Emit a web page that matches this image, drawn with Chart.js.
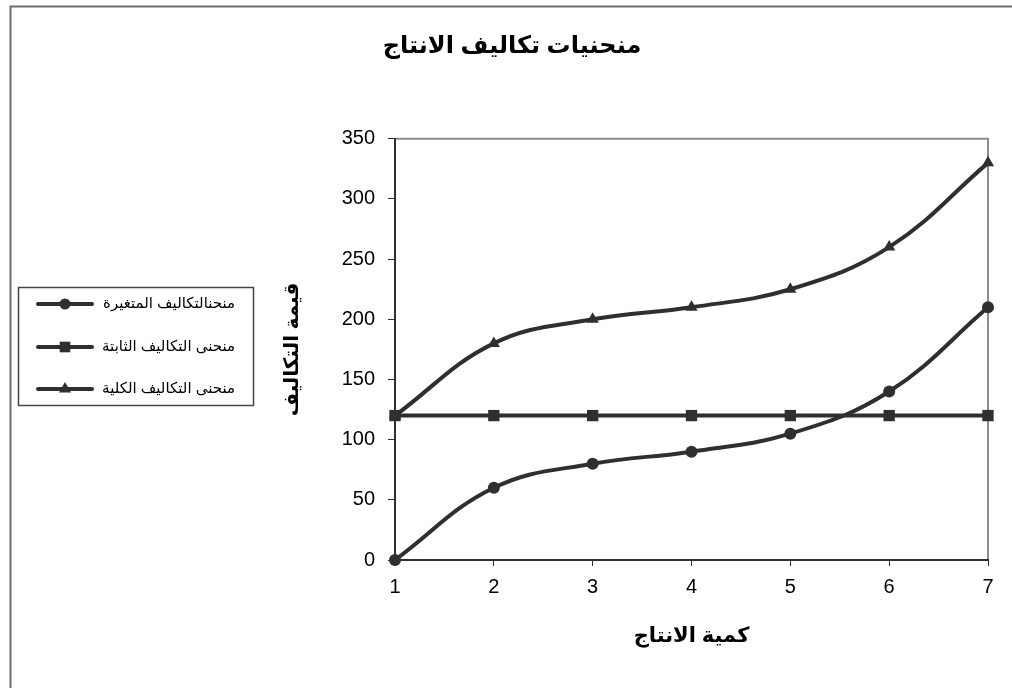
<!DOCTYPE html>
<html lang="ar">
<head>
<meta charset="utf-8">
<title>منحنيات تكاليف الانتاج</title>
<script src="https://cdn.jsdelivr.net/npm/chart.js@4/dist/chart.umd.min.js"></script>
<style>
    html, body { margin: 0; padding: 0; background: #fff; }
    #wrap { width: 1012px; height: 688px; position: relative; }
</style>
</head>
<body>
<div id="wrap"><canvas id="costChart" width="1012" height="688"></canvas></div>
<script>
// quantities and cost values
const quantities = ['1', '2', '3', '4', '5', '6', '7'];
const variableCost = [0, 60, 80, 90, 105, 140, 210];
const fixedCost = [120, 120, 120, 120, 120, 120, 120];
const totalCost = [120, 180, 200, 210, 225, 260, 330];
const yTicks = [0, 50, 100, 150, 200, 250, 300, 350];

const seriesNames = ['منحنالتكاليف المتغيرة', 'منحنى التكاليف الثابتة', 'منحنى التكاليف الكلية'];

const FONT = '"Liberation Sans", Arial, "DejaVu Sans", sans-serif';
const INK = '#2f2f2f';

function makeSeries(label, data, marker, radius) {
    return {
        label: label,
        data: data,
        borderColor: INK,
        backgroundColor: INK,
        borderWidth: 4,
        pointStyle: marker,
        pointRadius: radius,
        pointBorderWidth: 0,
        pointBackgroundColor: INK,
        tension: 0.4,
        clip: false
    };
}

// outer frame, plot border and the boxed legend on the left
const framePlugin = {
    id: 'frame',
    beforeDraw(chart) {
        const ctx = chart.ctx;
        ctx.save();
        ctx.fillStyle = '#fff';
        ctx.fillRect(0, 0, chart.width, chart.height);
        ctx.strokeStyle = '#6e6e6e';
        ctx.lineWidth = 2;
        ctx.beginPath();
        ctx.moveTo(10.5, chart.height);
        ctx.lineTo(10.5, 6.5);
        ctx.lineTo(chart.width, 6.5);
        ctx.stroke();

        const a = chart.chartArea;
        ctx.strokeStyle = '#8c8c8c';
        ctx.lineWidth = 2;
        ctx.beginPath();
        ctx.moveTo(a.left, a.top);
        ctx.lineTo(a.right, a.top);
        ctx.lineTo(a.right, a.bottom);
        ctx.stroke();
        ctx.restore();
    },
    afterDraw(chart) {
        const ctx = chart.ctx;
        ctx.save();
        ctx.strokeStyle = '#444';
        ctx.lineWidth = 1.5;
        ctx.strokeRect(18.5, 287.5, 235, 118);

        const rowsY = [304, 347, 389];
        const legendRadius = [5.5, 7.5, 7];
        chart.data.datasets.forEach((ds, i) => {
            const y = rowsY[i];
            ctx.strokeStyle = ds.borderColor;
            ctx.lineWidth = 4;
            ctx.lineCap = 'round';
            ctx.beginPath();
            ctx.moveTo(38, y);
            ctx.lineTo(92, y);
            ctx.stroke();
            ctx.fillStyle = ds.pointBackgroundColor;
            Chart.helpers.drawPoint(ctx, {
                pointStyle: ds.pointStyle,
                radius: legendRadius[i],
                borderWidth: 0
            }, 65, y);
            ctx.fillStyle = '#000';
            ctx.font = '15px ' + FONT;
            ctx.textAlign = 'right';
            ctx.textBaseline = 'middle';
            ctx.direction = 'rtl';
            ctx.fillText(ds.label, 235, y);
        });
        ctx.restore();
    }
};

new Chart(document.getElementById('costChart'), {
    type: 'line',
    data: {
        labels: quantities,
        datasets: [
            makeSeries(seriesNames[0], variableCost, 'circle', 6),
            makeSeries(seriesNames[1], fixedCost, 'rect', 8),
            makeSeries(seriesNames[2], totalCost, 'triangle', 7)
        ]
    },
    plugins: [framePlugin],
    options: {
        responsive: false,
        animation: false,
        devicePixelRatio: 1,
        layout: { padding: { left: 12, right: 0, top: 0, bottom: 0 } },
        plugins: {
            legend: { display: false },
            tooltip: { enabled: false },
            title: {
                display: true,
                text: 'منحنيات تكاليف الانتاج',
                color: '#000',
                font: { family: FONT, size: 24, weight: 'bold' },
                padding: { top: 32, bottom: 78 }
            }
        },
        scales: {
            x: {
                offset: false,
                afterFit(scale) {
                    scale.height = 688 - 560;
                },
                grid: {
                    display: true,
                    drawOnChartArea: false,
                    drawTicks: true,
                    tickLength: 6,
                    color: INK,
                    lineWidth: 1
                },
                border: { display: true, color: INK, width: 2 },
                ticks: {
                    color: '#000',
                    font: { family: FONT, size: 20 },
                    padding: 9,
                    maxRotation: 0
                },
                title: {
                    display: true,
                    text: 'كمية الانتاج',
                    color: '#000',
                    font: { family: FONT, size: 21, weight: 'bold' },
                    padding: { top: 0, bottom: 39 }
                }
            },
            y: {
                min: 0,
                max: 350,
                afterBuildTicks(scale) {
                    scale.ticks = yTicks.map(v => ({ value: v }));
                },
                afterFit(scale) {
                    scale.width = 395 - 12;
                },
                grid: {
                    display: true,
                    drawOnChartArea: false,
                    drawTicks: true,
                    tickLength: 7,
                    color: INK,
                    lineWidth: 1
                },
                border: { display: true, color: INK, width: 2 },
                ticks: {
                    color: '#000',
                    font: { family: FONT, size: 20 },
                    padding: 13
                },
                title: {
                    display: true,
                    text: 'قيمة التكاليف',
                    color: '#000',
                    font: { family: FONT, size: 20, weight: 'bold' },
                    padding: { top: 268, bottom: 0 }
                }
            },
            // empty right-hand strip so the plot ends where the picture's does
            yRight: {
                position: 'right',
                display: true,
                afterFit(scale) {
                    scale.width = 1012 - 988;
                },
                grid: { display: false },
                border: { display: false },
                ticks: { display: false }
            }
        }
    }
});
</script>
</body>
</html>
